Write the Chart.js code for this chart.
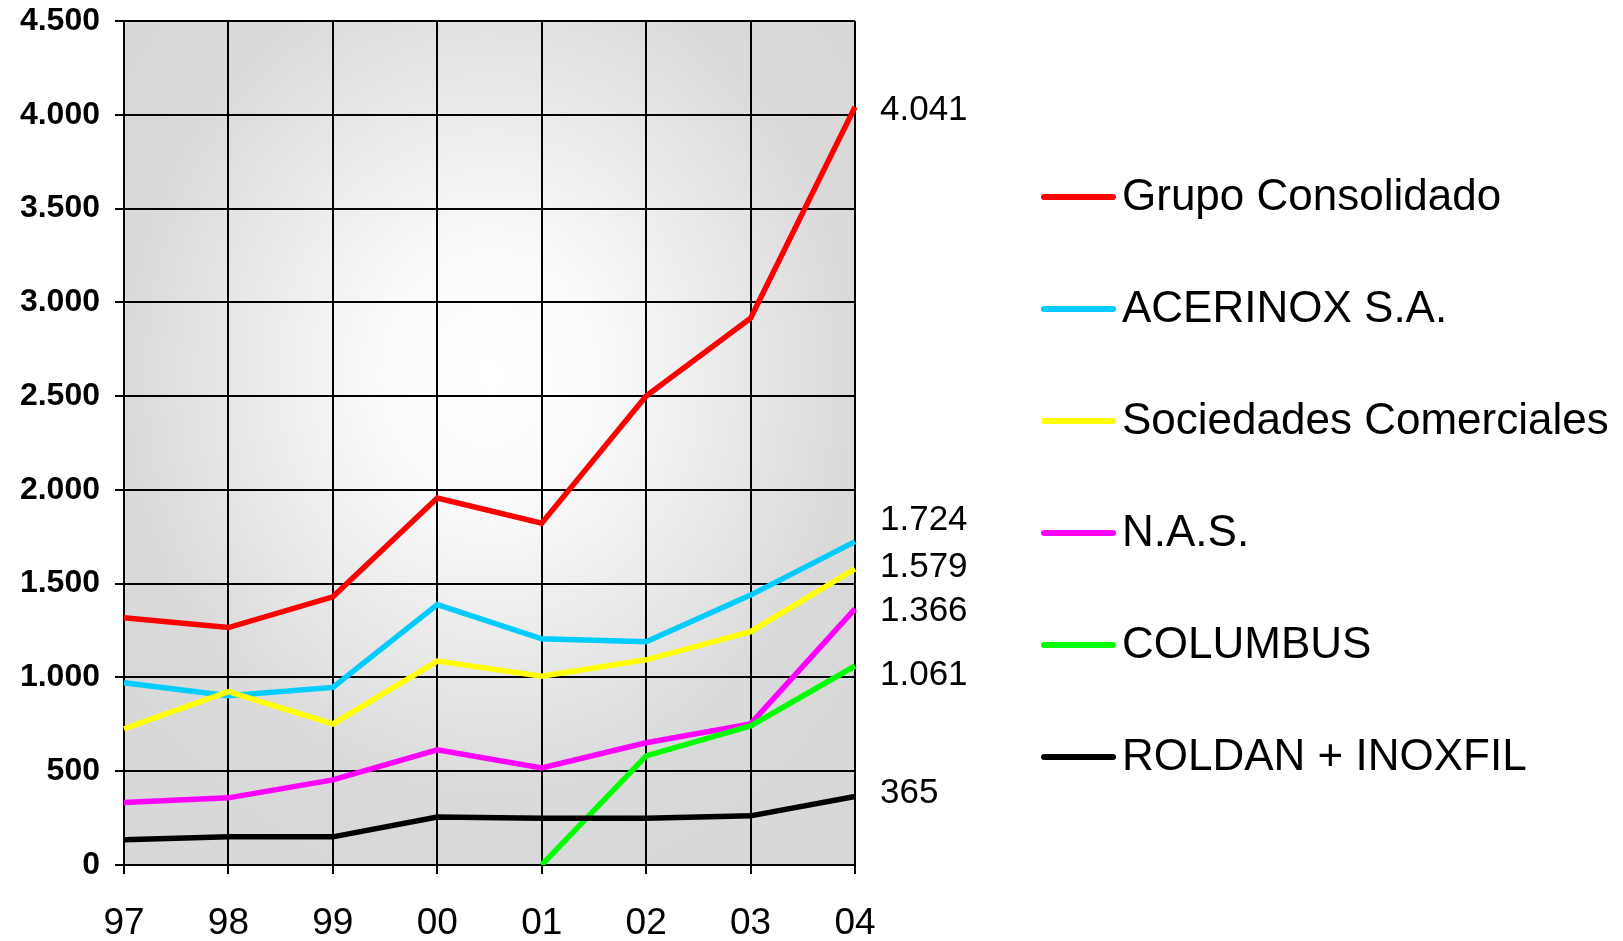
<!DOCTYPE html>
<html>
<head>
<meta charset="utf-8">
<script src="https://cdn.jsdelivr.net/npm/chart.js@4.4.1/dist/chart.umd.min.js"></script>
<style>
  body { margin: 0; background: #fff; }
  #wrap { width: 1623px; height: 941px; position: relative; }
</style>
</head>
<body>
<div id="wrap"><canvas id="myChart"></canvas></div>
<script>
let years = ["97", "98", "99", "00", "01", "02", "03", "04"];
let grupo = [1318, 1266, 1430, 1957, 1822, 2500, 2915, 4041];
let acerinox = [972, 902, 947, 1388, 1206, 1190, 1439, 1724];
let sociedades = [726, 924, 752, 1087, 1007, 1094, 1244, 1579];
let nas = [333, 358, 454, 614, 518, 652, 752, 1366];
let columbus = [null, null, null, null, 0, 582, 742, 1061];
let roldan = [134, 150, 150, 256, 249, 249, 262, 365];

let seriesNames = [
  "Grupo Consolidado",
  "ACERINOX S.A.",
  "Sociedades Comerciales",
  "N.A.S.",
  "COLUMBUS",
  "ROLDAN + INOXFIL",
];
let seriesData = [grupo, acerinox, sociedades, nas, columbus, roldan];
let seriesColors = ["#ff0000", "#00ccff", "#ffff00", "#ff00ff", "#00ff00", "#000000"];
let labelNudge = [3, -21, -2, 3, 9, -3]; // vertical shift of end labels

const FONT = "'Liberation Sans', Arial, Helvetica, sans-serif";

function fmt(v) {
  return String(v).replace(/\B(?=(\d{3})+(?!\d))/g, ".");
}

// gradient fill behind the grid
const bgPlugin = {
  id: "bg",
  beforeDraw(chart) {
    let { ctx, chartArea: a } = chart;
    let cx = a.left + (a.right - a.left) * 0.5;
    let cy = a.top + (a.bottom - a.top) * 0.42;
    let rx = (a.right - a.left) * 0.62;
    let ry = (a.bottom - a.top) * 0.62;
    ctx.save();
    ctx.beginPath();
    ctx.rect(a.left, a.top, a.right - a.left, a.bottom - a.top);
    ctx.clip();
    ctx.translate(cx, cy);
    ctx.scale(1, ry / rx);
    let g = ctx.createRadialGradient(0, 0, 0, 0, 0, rx);
    g.addColorStop(0, "#ffffff");
    g.addColorStop(0.25, "#fafafa");
    g.addColorStop(0.8, "#dadada");
    g.addColorStop(1, "#d8d8d8");
    ctx.fillStyle = g;
    ctx.fillRect(-rx * 2, -rx * 2, rx * 4, rx * 4);
    ctx.restore();
  },
};

// value labels at the last point + legend on the right
const textPlugin = {
  id: "texts",
  afterDraw(chart) {
    let ctx = chart.ctx;
    ctx.save();
    ctx.fillStyle = "#000";
    ctx.textAlign = "left";
    ctx.textBaseline = "middle";
    ctx.font = "35px " + FONT;
    chart.data.datasets.forEach(function (ds, i) {
      let meta = chart.getDatasetMeta(i);
      let last = meta.data[meta.data.length - 1];
      let v = ds.data[ds.data.length - 1];
      ctx.fillText(fmt(v), last.x + 25, last.y + labelNudge[i]);
    });

    ctx.font = "44px " + FONT;
    ctx.lineCap = "round";
    for (let i = 0; i < seriesNames.length; i++) {
      let y = 197 + i * 112;
      ctx.strokeStyle = seriesColors[i];
      ctx.lineWidth = 6;
      ctx.beginPath();
      ctx.moveTo(1044, y);
      ctx.lineTo(1113, y);
      ctx.stroke();
      ctx.fillText(seriesNames[i], 1122, y + 1);
    }
    ctx.restore();
  },
};

let datasets = seriesData.map(function (d, i) {
  return {
    label: seriesNames[i],
    data: d,
    borderColor: seriesColors[i],
    backgroundColor: seriesColors[i],
    borderWidth: 5.5,
    pointRadius: 0,
    tension: 0,
    fill: false,
    order: -i,
  };
});

let chart = new Chart(document.getElementById("myChart"), {
  type: "line",
  data: { labels: years, datasets: datasets },
  options: {
    responsive: true,
    maintainAspectRatio: false,
    animation: false,
    layout: { padding: { top: 21, right: 768, bottom: 0, left: 0 } },
    plugins: { legend: { display: false }, tooltip: { enabled: false } },
    scales: {
      x: {
        offset: false,
        grid: { color: "#000", lineWidth: 2, tickLength: 9, drawOnChartArea: true },
        border: { color: "#000", width: 2 },
        ticks: { color: "#000", font: { family: FONT, size: 37 }, padding: 28, maxRotation: 0 },
        afterFit(scale) {
          scale.height = 76;
        },
      },
      y: {
        min: 0,
        max: 4500,
        grid: { color: "#000", lineWidth: 2, tickLength: 9 },
        border: { color: "#000", width: 2 },
        ticks: {
          stepSize: 500,
          color: "#000",
          padding: 15,
          font: { family: FONT, size: 32, weight: "bold" },
          callback: function (v) {
            return fmt(v);
          },
        },
        afterFit(scale) {
          scale.width = 124;
          scale.paddingTop = 0;
          scale.paddingBottom = 0;
        },
      },
    },
  },
  plugins: [bgPlugin, textPlugin],
});
</script>
</body>
</html>
